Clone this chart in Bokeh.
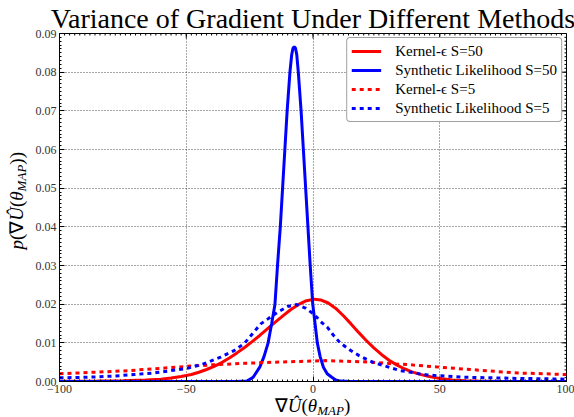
import numpy as np
from bokeh.plotting import figure
from bokeh.models import Range1d, FixedTicker, Legend, Div
from bokeh.layouts import row, column
from bokeh.embed import file_html
from bokeh.resources import INLINE

# ---------------- data ----------------
title_text = "Variance of Gradient Under Different Methods"
x_ticks = [-100, -50, 0, 50, 100]
x_tick_labels = ["\u2212100", "\u221250", "0", "50", "100"]
y_ticks = [0.00, 0.01, 0.02, 0.03, 0.04, 0.05, 0.06, 0.07, 0.08, 0.09]
y_tick_labels = ["0.00", "0.01", "0.02", "0.03", "0.04", "0.05", "0.06", "0.07", "0.08", "0.09"]

series_labels = ["Kernel-\u03f5 S=50", "Synthetic Likelihood S=50",
                 "Kernel-\u03f5 S=5", "Synthetic Likelihood S=5"]

kernel50_x = [-100, -85, -75, -66, -60, -56, -52, -48, -45, -42, -39, -36, -33, -30, -27, -24,
              -21, -18, -15, -12, -9, -6, -3, 0.5, 3, 6, 9, 12, 15, 18, 21, 24, 27, 30, 33,
              36, 39, 42, 45, 48, 51, 55, 60, 65, 75, 100]
kernel50_y = [0.00005, 0.0001, 0.0002, 0.0004, 0.0006, 0.0009, 0.0013, 0.0018, 0.0024, 0.0031,
              0.0039, 0.0049, 0.0061, 0.0074, 0.0088, 0.0103, 0.0119, 0.0136, 0.0153, 0.0169,
              0.0185, 0.0198, 0.0208, 0.0213, 0.0211, 0.0203, 0.0189, 0.0170, 0.0149, 0.0127,
              0.0106, 0.0087, 0.0070, 0.0055, 0.0043, 0.0033, 0.0025, 0.0019, 0.0014, 0.0010,
              0.0007, 0.0004, 0.0002, 0.0001, 0.0, 0.0]

sl50_x = [-100, -40, -30, -26, -23.6, -21, -19.3, -17.7, -16.3, -15.0, -14.0, -12.9, -12.0, -11.1,
          -10.2, -9.1, -8.4, -7.9, -7.4, -6.9, -6.4, -5.8, -4.7, -3.8, -2.9, -2.0, -1.1, -0.1,
          0.8, 1.7, 2.8, 4.1, 5.6, 7.4, 9.0, 10.7, 15, 30, 100]
sl50_y = [0.0, 0.0, 0.0, 0.0001, 0.0011, 0.0037, 0.0065, 0.0100, 0.0150, 0.0200, 0.0300, 0.0400,
          0.0500, 0.0600, 0.0700, 0.0800, 0.0845, 0.0862, 0.0866, 0.0862, 0.0845, 0.0800, 0.0700,
          0.0600, 0.0500, 0.0400, 0.0300, 0.0200, 0.0150, 0.0100, 0.0065, 0.0037, 0.0020, 0.0011,
          0.0004, 0.0001, 0.0, 0.0, 0.0]

kernel5_x = [-100, -86, -73, -60, -50, -40, -27, -15, -5, 5, 15, 23, 31, 39, 50, 60, 70, 81, 91, 100]
kernel5_y = [0.0020, 0.0024, 0.0028, 0.0034, 0.0039, 0.0043, 0.0047, 0.0050, 0.0052, 0.0054,
             0.0052, 0.0050, 0.0046, 0.0043, 0.0037, 0.0032, 0.0027, 0.0022, 0.0020, 0.0018]

sl5_x = [-100, -89, -78.5, -70.6, -62.7, -56.2, -49.6, -43, -36.4, -31.1, -27, -20.6, -14, -10,
         -6.5, -3, 0.4, 3, 5.7, 8, 10.7, 14.9, 18.2, 21.5, 24.7, 28, 31.3, 34.6, 38.6, 41.8,
         45.1, 49.1, 52.4, 59.6, 70.1, 80.7, 91.2, 100]
sl5_y = [0.00095, 0.0011, 0.0014, 0.0018, 0.0022, 0.0028, 0.0034, 0.0046, 0.0063, 0.0080, 0.0099,
         0.0149, 0.0179, 0.0194, 0.0199, 0.0190, 0.0174, 0.0155, 0.0140, 0.0120, 0.0100, 0.0080,
         0.0067, 0.0056, 0.0047, 0.0041, 0.0034, 0.0028, 0.0024, 0.0020, 0.0017, 0.0015, 0.0014,
         0.0011, 0.00095, 0.0008, 0.0007, 0.0006]

# ---------------- styling ----------------
SERIF = "'Liberation Serif', serif"
RED = "#ff0000"
BLUE = "#0000ff"

X0, X1, Y0, Y1 = -100, 100, 0.0, 0.09
FRAME_W, FRAME_H = 507, 349

p = figure(width=544, height=396,
           x_range=Range1d(X0, X1), y_range=Range1d(Y0, Y1),
           output_backend="svg", toolbar_location=None,
           min_border_left=29, min_border_right=8, min_border_top=32, min_border_bottom=15,
           background_fill_color="white", border_fill_color="white", margin=0)

p.title.text = title_text
p.title.align = "center"
p.title.text_font = SERIF
p.title.text_font_style = "normal"
p.title.text_font_size = "28px"
p.title.text_color = "black"
p.title.standoff = 0

p.outline_line_color = "black"
p.outline_line_width = 1

x_minor = list(np.arange(-100, 100.1, 2.0))
y_minor = list(np.round(np.arange(0, 0.0901, 0.001), 4))
p.xaxis.ticker = FixedTicker(ticks=x_ticks, minor_ticks=x_minor)
p.yaxis.ticker = FixedTicker(ticks=y_ticks, minor_ticks=y_minor)
p.xaxis.major_label_overrides = dict(zip(x_ticks, x_tick_labels))
p.yaxis.major_label_overrides = dict(zip(y_ticks, y_tick_labels))

for ax in (p.xaxis[0], p.yaxis[0]):
    ax.axis_line_color = "black"
    ax.major_tick_in = 5
    ax.major_tick_out = 0
    ax.minor_tick_in = 2
    ax.minor_tick_out = 0
    ax.major_tick_line_color = "black"
    ax.minor_tick_line_color = "black"
    ax.major_label_text_font = SERIF
    ax.major_label_text_font_size = "12px"
    ax.major_label_text_color = "#333333"
    ax.major_label_standoff = 3

for g in (p.xgrid[0], p.ygrid[0]):
    g.grid_line_color = "black"
    g.grid_line_alpha = 0.7
    g.grid_line_dash = "1 2"
    g.grid_line_width = 1

# mirrored inward ticks on the right and top edges (positions from the tick lists)
dx_major = 5 * (X1 - X0) / FRAME_W
dy_major = 5 * (Y1 - Y0) / FRAME_H
dx_minor = 2 * (X1 - X0) / FRAME_W
dy_minor = 2 * (Y1 - Y0) / FRAME_H
p.segment(x0=[X1] * len(y_ticks), x1=[X1 - dx_major] * len(y_ticks), y0=y_ticks, y1=y_ticks,
          line_color="black", line_width=1)
p.segment(x0=[X1] * len(y_minor), x1=[X1 - dx_minor] * len(y_minor), y0=y_minor, y1=y_minor,
          line_color="black", line_width=1)
p.segment(x0=x_ticks, x1=x_ticks, y0=[Y1] * len(x_ticks), y1=[Y1 - dy_major] * len(x_ticks),
          line_color="black", line_width=1)
p.segment(x0=x_minor, x1=x_minor, y0=[Y1] * len(x_minor), y1=[Y1 - dy_minor] * len(x_minor),
          line_color="black", line_width=1)

p.line(kernel50_x, kernel50_y, line_color=RED, line_width=3, legend_label=series_labels[0])
p.line(sl50_x, sl50_y, line_color=BLUE, line_width=3, legend_label=series_labels[1])
p.line(kernel5_x, kernel5_y, line_color=RED, line_width=3, line_dash="4 4",
       legend_label=series_labels[2])
p.line(sl5_x, sl5_y, line_color=BLUE, line_width=3, line_dash="4 4",
       legend_label=series_labels[3])

lg = p.legend[0]
lg.location = "top_right"
lg.margin = 4
lg.padding = 4
lg.spacing = 1
lg.glyph_width = 30
lg.glyph_height = 18
lg.label_height = 18
lg.label_standoff = 14
lg.label_text_font = SERIF
lg.label_text_font_size = "15px"
lg.label_text_color = "black"
lg.border_line_color = "#444444"
lg.border_line_width = 1
lg.background_fill_color = "white"
lg.background_fill_alpha = 1.0
lg.label_text_baseline = "middle"
if "border_radius" in Legend.properties():
    lg.border_radius = 4

FONT_CSS = "font-family:'Liberation Serif',serif;color:#000;white-space:nowrap;"

xlabel_html = (
    f'<div style="width:565px;text-align:center;font-size:19px;line-height:19px;{FONT_CSS}">'
    '\u2207<i>\u00db</i>(<i>\u03b8</i>'
    '<span style="font-size:13px;position:relative;top:3px;"><i>MAP</i></span>)</div>'
)
ylabel_html = (
    f'<div style="width:30px;height:401px;display:flex;align-items:center;'
    f'justify-content:center;padding-left:4px;">'
    f'<div style="writing-mode:vertical-rl;transform:rotate(180deg);font-size:19px;{FONT_CSS}">'
    '<i>p</i>(\u2207<i>\u00db</i>(<i>\u03b8</i><sub style="font-size:13px;"><i>MAP</i></sub>))'
    '</div></div>'
)

xdiv = Div(text=xlabel_html, width=544, height=21, margin=0)
ydiv = Div(text=ylabel_html, width=30, height=417, margin=0)

layout = row(ydiv, column(p, xdiv, spacing=0, margin=0), spacing=0, margin=0)

open("out.html", "w").write(file_html(layout, INLINE))
